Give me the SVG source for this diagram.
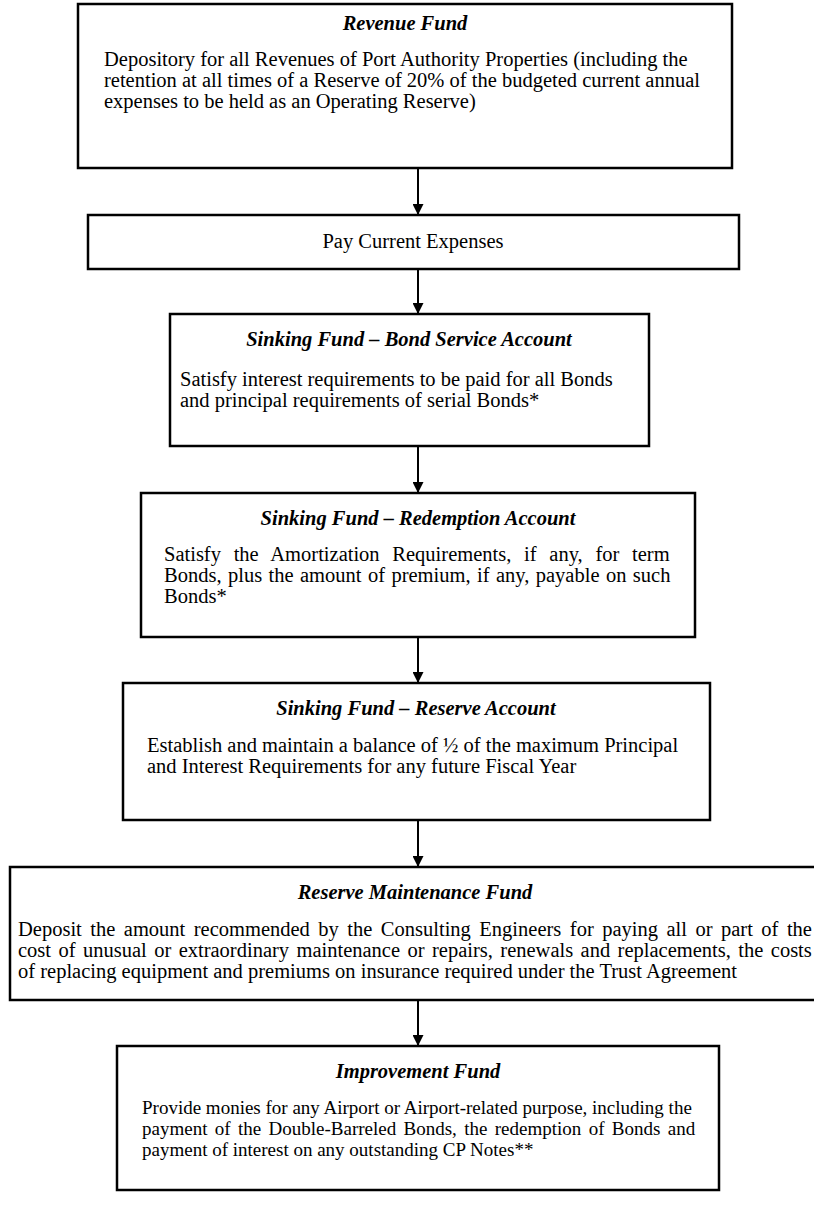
<svg xmlns="http://www.w3.org/2000/svg" width="814" height="1226" viewBox="0 0 814 1226">
<style>
.box{fill:#fff;stroke:#000;stroke-width:2.5}
.t{font-family:"Liberation Serif","Times New Roman",serif;font-size:20.5px;fill:#000}
.s{font-size:19px}
.h{font-weight:bold;font-style:italic;text-anchor:middle}
.c{text-anchor:middle}
.conn line{stroke:#000;stroke-width:2}
</style>
<defs>
<marker id="ah" viewBox="0 0 10 10" refX="10" refY="5" markerWidth="13" markerHeight="11" markerUnits="userSpaceOnUse" orient="auto">
<path d="M0,0 L10,5 L0,10 z" fill="#000"/>
</marker>
</defs>
<rect width="814" height="1226" fill="#fff"/>
<g id="revenue-fund">
<rect class="box" x="78" y="4" width="654" height="164"/>
<text class="t h" x="405" y="30">Revenue Fund</text>
<text class="t" x="104" y="66">Depository for all Revenues of Port Authority Properties (including the</text>
<text class="t" x="104" y="87">retention at all times of a Reserve of 20% of the budgeted current annual</text>
<text class="t" x="104" y="108">expenses to be held as an Operating Reserve)</text>
</g>
<g id="pay-current-expenses">
<rect class="box" x="88" y="215" width="651" height="54"/>
<text class="t c" x="413" y="248">Pay Current Expenses</text>
</g>
<g id="bond-service-account">
<rect class="box" x="170" y="314" width="479" height="132"/>
<text class="t h" x="409" y="346">Sinking Fund – Bond Service Account</text>
<text class="t" x="180" y="386">Satisfy interest requirements to be paid for all Bonds</text>
<text class="t" x="180" y="407">and principal requirements of serial Bonds*</text>
</g>
<g id="redemption-account">
<rect class="box" x="141" y="493" width="554" height="144"/>
<text class="t h" x="418" y="525">Sinking Fund – Redemption Account</text>
<text class="t" x="164" y="561" word-spacing="7.6">Satisfy the Amortization Requirements, if any, for term</text>
<text class="t" x="164" y="582" word-spacing="1.3">Bonds, plus the amount of premium, if any, payable on such</text>
<text class="t" x="164" y="603">Bonds*</text>
</g>
<g id="reserve-account">
<rect class="box" x="123" y="683" width="587" height="137"/>
<text class="t h" x="416" y="715">Sinking Fund – Reserve Account</text>
<text class="t" x="147" y="752">Establish and maintain a balance of ½ of the maximum Principal</text>
<text class="t" x="147" y="773">and Interest Requirements for any future Fiscal Year</text>
</g>
<g id="reserve-maintenance-fund">
<rect class="box" x="10" y="867" width="830" height="133"/>
<text class="t h" x="415" y="899">Reserve Maintenance Fund</text>
<text class="t" x="18" y="936" word-spacing="3.36">Deposit the amount recommended by the Consulting Engineers for paying all or part of the</text>
<text class="t" x="18" y="957" word-spacing="2.3">cost of unusual or extraordinary maintenance or repairs, renewals and replacements, the costs</text>
<text class="t" x="18" y="978">of replacing equipment and premiums on insurance required under the Trust Agreement</text>
</g>
<g id="improvement-fund">
<rect class="box" x="117" y="1046" width="602" height="144"/>
<text class="t h" x="418" y="1078">Improvement Fund</text>
<text class="t s" x="142" y="1114">Provide monies for any Airport or Airport-related purpose, including the</text>
<text class="t s" x="142" y="1135" word-spacing="2.6">payment of the Double-Barreled Bonds, the redemption of Bonds and</text>
<text class="t s" x="142" y="1156">payment of interest on any outstanding CP Notes**</text>
</g>
<g id="connectors" class="conn">
<line x1="418" y1="168" x2="418" y2="215" marker-end="url(#ah)"/>
<line x1="418" y1="269" x2="418" y2="314" marker-end="url(#ah)"/>
<line x1="418" y1="446" x2="418" y2="493" marker-end="url(#ah)"/>
<line x1="418" y1="637" x2="418" y2="683" marker-end="url(#ah)"/>
<line x1="418" y1="820" x2="418" y2="867" marker-end="url(#ah)"/>
<line x1="418" y1="1000" x2="418" y2="1046" marker-end="url(#ah)"/>
</g>
</svg>
